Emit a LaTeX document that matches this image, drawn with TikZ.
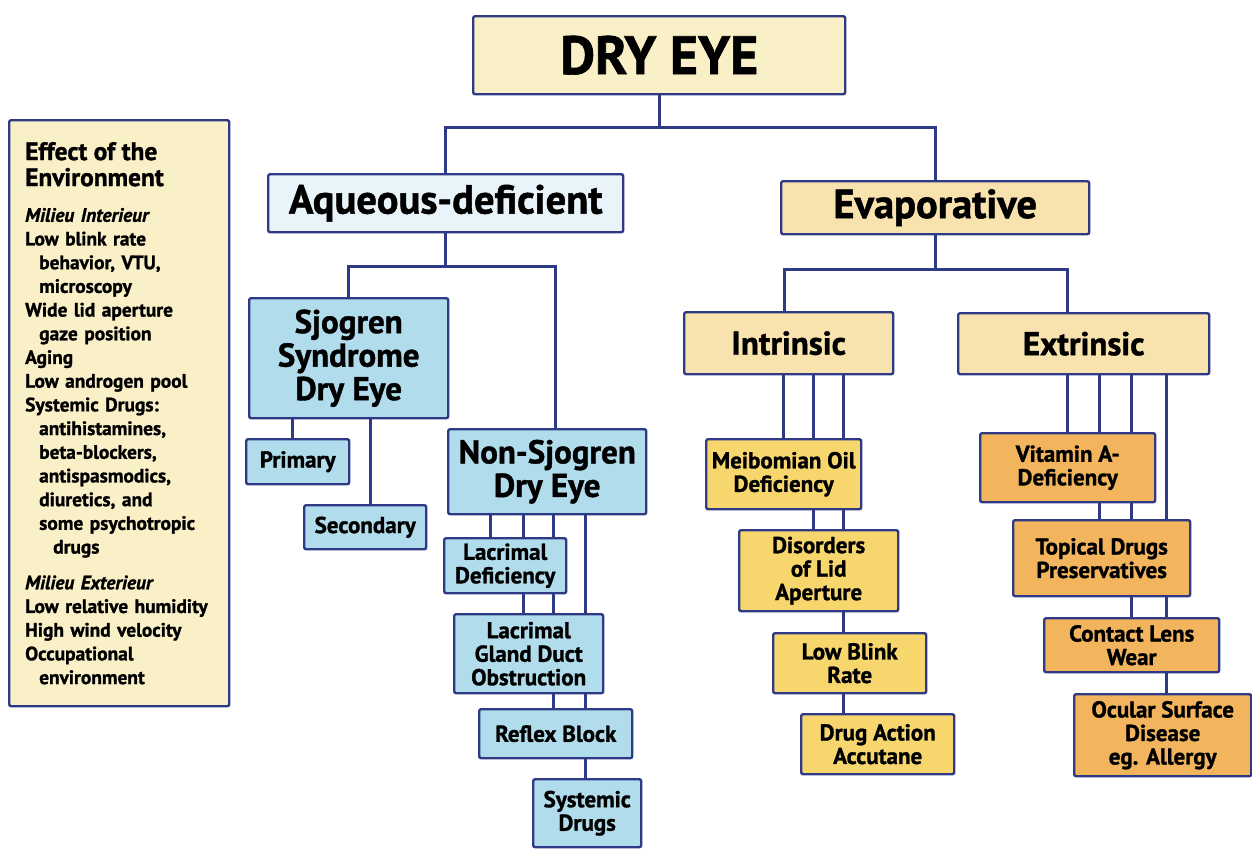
\documentclass[tikz,border=0pt]{standalone}
\usepackage{fontspec}
\setmainfont{PT Sans}[BoldFeatures={FakeBold=1.2},BoldItalicFeatures={FakeBold=1.2}]
\usetikzlibrary{positioning,calc,backgrounds}
\setlength{\parindent}{0pt}

\definecolor{linec}{HTML}{2E3A86}
\definecolor{creamc}{HTML}{FAF0C8}
\definecolor{tanc}{HTML}{F8E3AE}
\definecolor{paleblc}{HTML}{E8F3FA}
\definecolor{bluec}{HTML}{B0DCEB}
\definecolor{goldc}{HTML}{F8D66E}
\definecolor{orangec}{HTML}{F2B45C}

\tikzset{
  box/.style={draw=linec, line width=1.2pt, rounded corners=1pt, align=center,
    inner sep=1pt, anchor=north west, text=black, font=\bfseries},
  boxsize/.style 2 args={minimum width=#1*0.5pt, minimum height=#2*0.5pt},
  link/.style={draw=linec, line width=1.5pt},
  small/.style={font=\bfseries\fontsize{11.5}{11.75}\selectfont},
  mid/.style={font=\bfseries\fontsize{16.5}{16.75}\selectfont},
  big/.style={font=\bfseries\fontsize{20.3}{22}\selectfont},
}

\begin{document}
\begin{tikzpicture}[x=0.5pt,y=0.5pt,yscale=-1,xscale=1]

\useasboundingbox (0,0) rectangle (1252,848);

% Top levels
\node[box, boxsize={372}{78}, fill=creamc, font=\bfseries\fontsize{27}{30}\selectfont] (dry) at (472,15) {DRY EYE};
\node[box, boxsize={355}{58}, fill=paleblc, big] (aq) at (267,173) {Aqueous-deficient};
\node[box, boxsize={308}{53}, fill=tanc, big] (evap) at (780,180) {Evaporative};

% Aqueous-deficient branch
\node[box, boxsize={199}{120}, fill=bluec, mid] (sjo) at (248,297) {Sjogren\\Syndrome\\Dry Eye};
\node[box, boxsize={103}{45}, fill=bluec, small] (prim) at (245,438) {Primary};
\node[box, boxsize={122}{44}, fill=bluec, small] (sec) at (303,504) {Secondary};
\node[box, boxsize={198}{85}, fill=bluec, mid] (nsj) at (447,428) {Non-Sjogren\\Dry Eye};
\node[box, boxsize={122}{55}, fill=bluec, small] (lacd) at (443,537) {Lacrimal\\Deficiency};
\node[box, boxsize={149}{79}, fill=bluec, small] (lacg) at (453,613) {Lacrimal\\Gland Duct\\Obstruction};
\node[box, boxsize={153}{49}, fill=bluec, small] (refl) at (478,708) {Reflex Block};
\node[box, boxsize={108}{68}, fill=bluec, small] (sysd) at (532,778) {Systemic\\Drugs};

% Evaporative branch
\node[box, boxsize={209}{62}, fill=tanc, font=\bfseries\fontsize{16.5}{18}\selectfont] (intr) at (683,311) {Intrinsic};
\node[box, boxsize={251}{61}, fill=tanc, font=\bfseries\fontsize{16.5}{18}\selectfont] (extr) at (957,312) {Extrinsic};
\node[box, boxsize={155}{70}, fill=goldc, small] (meib) at (705,438) {Meibomian Oil\\Deficiency};
\node[box, boxsize={159}{81}, fill=goldc, small] (disl) at (738,529) {Disorders\\of Lid\\Aperture};
\node[box, boxsize={153}{60}, fill=goldc, small] (lowb) at (772,632) {Low Blink\\Rate};
\node[box, boxsize={153}{60}, fill=goldc, small] (drug) at (800,713) {Drug Action\\Accutane};
\node[box, boxsize={175}{69}, fill=orangec, small] (vita) at (979,432) {Vitamin A-\\Deficiency};
\node[box, boxsize={177}{76}, fill=orangec, small] (topd) at (1012,519) {Topical Drugs\\Preservatives};
\node[box, boxsize={175}{54}, fill=orangec, small] (cont) at (1043,617) {Contact Lens\\Wear};
\node[box, boxsize={177}{82}, fill=orangec, small] (ocul) at (1073,693) {Ocular Surface\\Disease\\eg. Allergy};

% Environment panel
\node[box, boxsize={220}{586}, fill=creamc, align=left, text width=94pt, inner xsep=8pt,
  font=\bfseries\fontsize{9.7}{11.85}\selectfont] (env) at (8,119) {%
  {\fontsize{12.7}{13}\selectfont Effect of the\par Environment\par}
  \vspace{6pt}
  {\itshape Milieu Interieur}\par
  Low blink rate\par
  \hspace*{7pt}behavior, VTU,\par
  \hspace*{7pt}microscopy\par
  Wide lid aperture\par
  \hspace*{7pt}gaze position\par
  Aging\par
  Low androgen pool\par
  Systemic Drugs:\par
  \hspace*{7pt}antihistamines,\par
  \hspace*{7pt}beta-blockers,\par
  \hspace*{7pt}antispasmodics,\par
  \hspace*{7pt}diuretics, and\par
  \hspace*{7pt}some psychotropic\par
  \hspace*{14pt}drugs\par
  \vspace{6pt}
  {\itshape Milieu Exterieur}\par
  Low relative humidity\par
  High wind velocity\par
  Occupational\par
  \hspace*{7pt}environment};

% Connectors
\begin{scope}[on background layer]
\draw[link] (dry.south) -- ++(0,32) coordinate (dryj);
\draw[link] (dryj) -| (aq.north);
\draw[link] (dryj) -| (evap.north);
\draw[link] (aq.south) -- ++(0,33) coordinate (aqj);
\draw[link] (aqj) -| (sjo.north);
\draw[link] (aqj) -| ($(nsj.north west)+(108,0)$);
\draw[link] ($(sjo.south west)+(44,0)$) coordinate (t) -- (t |- prim.north);
\draw[link] ($(sjo.south west)+(122,0)$) coordinate (t) -- (t |- sec.north);
\foreach \dx/\tgt in {43/lacd,76/lacg,106/refl,138/sysd}
  \draw[link] ($(nsj.south west)+(\dx,0)$) coordinate (t) -- (t |- \tgt.north);
\draw[link] (evap.south) -- ++(0,34) coordinate (evj);
\draw[link] (evj) -| ($(intr.north west)+(101,0)$);
\draw[link] (evj) -| ($(extr.north west)+(110,0)$);
\foreach \dx/\tgt in {100/meib,130/disl,160/drug}
  \draw[link] ($(intr.south west)+(\dx,0)$) coordinate (t) -- (t |- \tgt.north);
\foreach \dx/\tgt in {110/vita,142/topd,174/cont,209/ocul}
  \draw[link] ($(extr.south west)+(\dx,0)$) coordinate (t) -- (t |- \tgt.north);
\end{scope}

\end{tikzpicture}
\end{document}
